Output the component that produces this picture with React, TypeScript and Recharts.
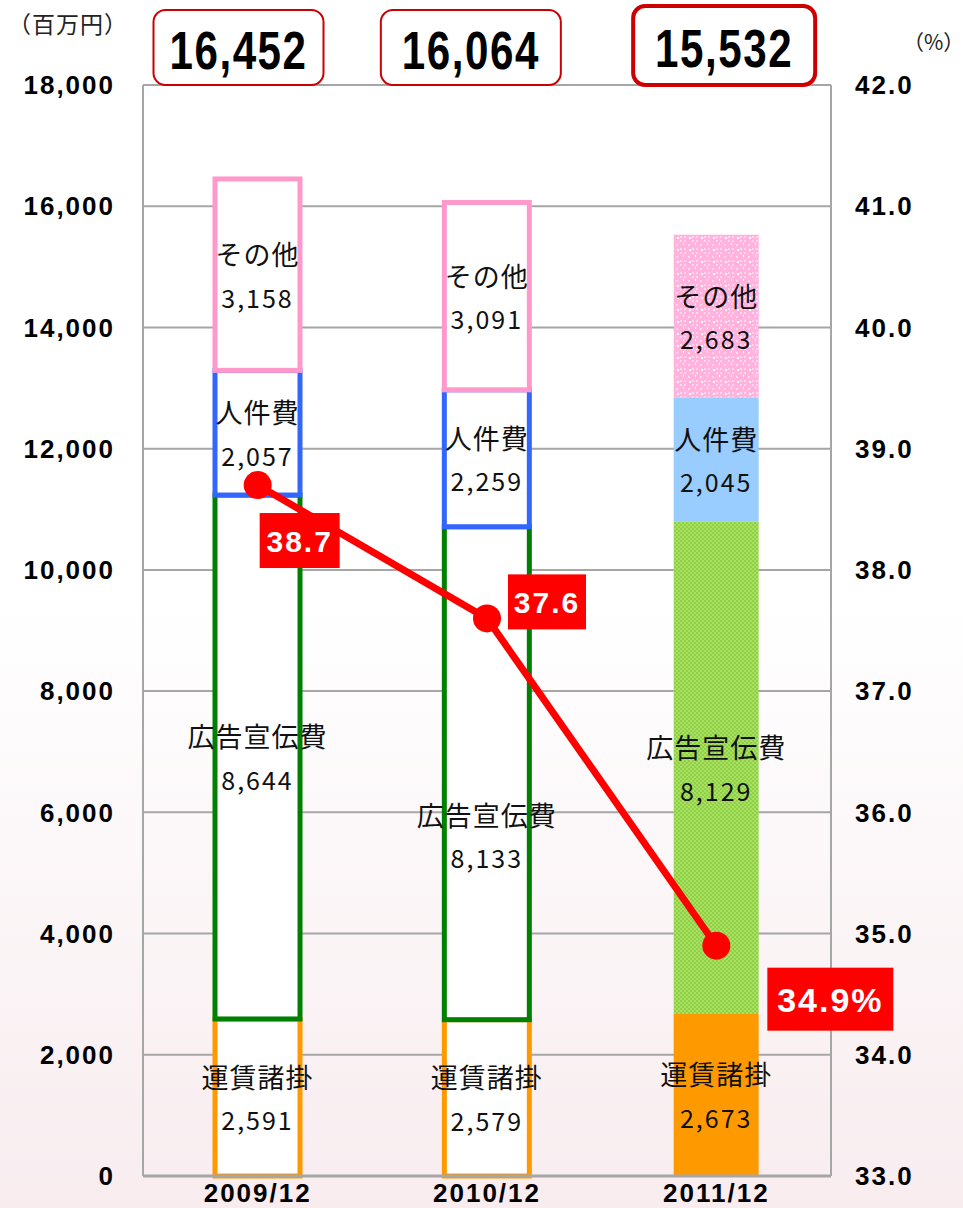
import React from 'react'
import { ComposedChart, Bar, Line, XAxis, YAxis, CartesianGrid, LabelList } from 'recharts'

const categories = ['2009/12', '2010/12', '2011/12']
const freight = [2591, 2579, 2673]
const advertising = [8644, 8133, 8129]
const personnel = [2057, 2259, 2045]
const other = [3158, 3091, 2683]
const totals = [16452, 16064, 15532]
const ratio = [38.7, 37.6, 34.9]
const leftTicks = [0, 2000, 4000, 6000, 8000, 10000, 12000, 14000, 16000, 18000]
const rightTicks = [33, 34, 35, 36, 37, 38, 39, 40, 41, 42]

const segNames: Record<string, string> = {
  freight: '運賃諸掛',
  advertising: '広告宣伝費',
  personnel: '人件費',
  other: 'その他',
}

const data = categories.map((c, i) => ({
  name: c,
  freight: freight[i],
  advertising: advertising[i],
  personnel: personnel[i],
  other: other[i],
  total: totals[i],
  ratio: ratio[i],
}))

const outline: Record<string, string> = {
  freight: '#ff9900',
  advertising: '#008000',
  personnel: '#3366ff',
  other: '#ff99cc',
}
const solid: Record<string, string> = {
  freight: '#ff9900',
  advertising: 'url(#greenDots)',
  personnel: '#99ccff',
  other: 'url(#pinkDots)',
}

const SANS = '"Liberation Sans", Arial, sans-serif'
const JP = '"Noto Sans CJK JP", "Noto Sans", sans-serif'

const fmt = (v: number) => v.toLocaleString('en-US')

const segShape = (key: string) => (p: any) => {
  const { x, y, width, height, index } = p
  if (index < 2) {
    return <rect x={x} y={y} width={width} height={height} fill="#fff" stroke={outline[key]} strokeWidth={5} />
  }
  return <rect x={x} y={y} width={width} height={height} fill={solid[key]} />
}

const segLabel = (key: string) => (p: any) => {
  const { x, y, width, height, index, value } = p
  const cx = x + width / 2
  let cy = y + height / 2
  if (key === 'advertising' && index === 1) cy += 62
  return (
    <g>
      <text x={cx} y={cy - 21} textAnchor="middle" dominantBaseline="central" fontFamily={JP} fontSize={27} fill="#111" style={{ letterSpacing: 1 }}>
        {segNames[key]}
      </text>
      <text x={cx} y={cy + 22} textAnchor="middle" dominantBaseline="central" fontFamily={JP} fontSize={25} fill="#111" style={{ letterSpacing: 2 }}>
        {fmt(value)}
      </text>
    </g>
  )
}

const totalLabel = (p: any) => {
  const { x, width, index } = p
  const shift = [-19, -16, 8][index] ?? 0
  const w = [170, 180, 182][index] ?? 176
  const cx = x + width / 2 + shift
  const top = index === 2 ? 6 : 10
  const cy = top + (85 - top) / 2 + 3
  return (
    <g>
      <rect x={cx - w / 2} y={top} width={w} height={85 - top} rx={12} fill="#fff" stroke="#cc0000" strokeWidth={index === 2 ? 4 : 2} />
      <text transform={`translate(${cx},${cy}) scale(0.78,1)`} x={0} y={0} textAnchor="middle" dominantBaseline="central" fontFamily={SANS} fontWeight="bold" fontSize={54} fill="#000" style={{ letterSpacing: 2 }}>
        {fmt(totals[index])}
      </text>
    </g>
  )
}

const ratioLabel = (p: any) => {
  const { x, y, index, value } = p
  const boxes = [
    { dx: 2, dy: 28, w: 80, h: 55, fs: 30 },
    { dx: 21, dy: -44, w: 78, h: 55, fs: 30 },
    { dx: 51, dy: 22, w: 126, h: 63, fs: 34 },
  ]
  const b = boxes[index]
  const txt = index === 2 ? `${value}%` : `${value}`
  return (
    <g>
      <rect x={x + b.dx} y={y + b.dy} width={b.w} height={b.h} fill="#ff0000" />
      <text x={x + b.dx + b.w / 2} y={y + b.dy + b.h / 2 + 1} textAnchor="middle" dominantBaseline="central" fontFamily={SANS} fontWeight="bold" fontSize={b.fs} fill="#fff" style={{ letterSpacing: 2 }}>
        {txt}
      </text>
    </g>
  )
}

const tickStyle = { fill: '#000', fontSize: 26, fontWeight: 'bold', fontFamily: SANS, letterSpacing: 2 } as any

export default function App() {
  const keys = ['freight', 'advertising', 'personnel', 'other']
  return (
    <div style={{ position: 'absolute', left: 0, top: 0, width: 963, height: 1208, background: 'linear-gradient(to bottom, #ffffff 0%, #ffffff 50%, #f8ecef 100%)' }}>
      <div style={{ position: 'absolute', left: 8, top: 6, fontFamily: JP, fontSize: 23, color: '#222', letterSpacing: 1 }}>（百万円）</div>
      <div style={{ position: 'absolute', left: 903, top: 26, fontFamily: JP, fontSize: 21, color: '#222' }}>（%）</div>
      <ComposedChart width={963} height={1208} data={data} margin={{ top: 85, right: 0, bottom: 0, left: 0 }} barCategoryGap={0}>
        <defs>
          <pattern id="greenDots" width="4" height="4" patternUnits="userSpaceOnUse">
            <rect width="4" height="4" fill="#a8e060" />
            <rect x="0" y="0" width="2" height="2" fill="#90d048" />
            <rect x="2" y="2" width="2" height="2" fill="#90d048" />
          </pattern>
          <pattern id="pinkDots" width="12" height="12" patternUnits="userSpaceOnUse">
            <rect width="12" height="12" fill="#ffb3dd" />
            <rect x="0" y="0" width="2" height="2" fill="#ffd6ee" />
            <rect x="4" y="4" width="2" height="2" fill="#ffd6ee" />
            <rect x="8" y="8" width="2" height="2" fill="#ffd6ee" />
            <rect x="8" y="0" width="2" height="2" fill="#ffd6ee" />
            <rect x="0" y="8" width="2" height="2" fill="#ffd6ee" />
            <rect x="5" y="9" width="2" height="2" fill="#ffffff" />
            <rect x="11" y="3" width="2" height="2" fill="#ffffff" />
          </pattern>
        </defs>
        <CartesianGrid vertical={false} stroke="#a6a6a6" strokeWidth={2} yAxisId="left" />
        <XAxis dataKey="name" tickLine={false} tickSize={0} tickMargin={8} height={32} axisLine={{ stroke: '#a6a6a6', strokeWidth: 3 }} tick={tickStyle} />
        <YAxis yAxisId="left" domain={[0, 18000]} ticks={leftTicks} tickFormatter={fmt} width={143} tickLine={false} tickSize={0} tickMargin={28} axisLine={{ stroke: '#a6a6a6', strokeWidth: 2 }} tick={tickStyle} />
        <YAxis yAxisId="right" orientation="right" domain={[33, 42]} ticks={rightTicks} tickFormatter={(v: number) => v.toFixed(1)} width={132} tickLine={false} tickSize={0} tickMargin={24} axisLine={{ stroke: '#a6a6a6', strokeWidth: 2 }} tick={{ ...tickStyle, textAnchor: 'start' }} />
        {keys.map((k) => (
          <Bar key={k} dataKey={k} stackId="a" yAxisId="left" barSize={85} shape={segShape(k)} isAnimationActive={false}>
            <LabelList dataKey={k} content={segLabel(k)} />
            {k === 'other' && <LabelList dataKey="total" content={totalLabel} />}
          </Bar>
        ))}
        <Line yAxisId="right" dataKey="ratio" stroke="#ff0000" strokeWidth={7} dot={{ r: 14, fill: '#ff0000', stroke: 'none' }} activeDot={false} isAnimationActive={false}>
          <LabelList dataKey="ratio" content={ratioLabel} />
        </Line>
      </ComposedChart>
    </div>
  )
}
